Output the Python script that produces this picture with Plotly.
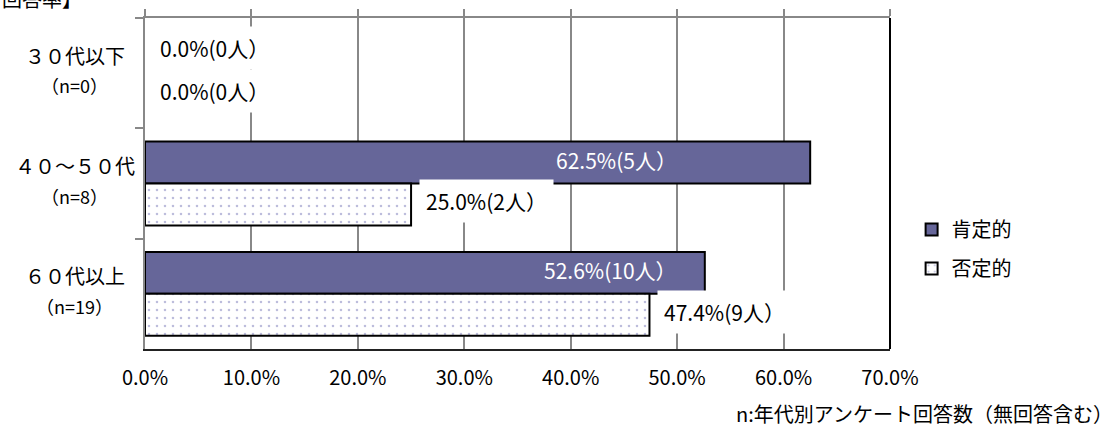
import plotly.graph_objects as go

# ---- data ----
categories = ["３０代以下", "４０～５０代", "６０代以上"]
n_values = [0, 8, 19]
positive_pct = [0.0, 62.5, 52.6]
positive_cnt = [0, 5, 10]
negative_pct = [0.0, 25.0, 47.4]
negative_cnt = [0, 2, 9]
series_names = ["肯定的", "否定的"]
x_ticks = [0, 10, 20, 30, 40, 50, 60, 70]
x_tick_labels = ["0.0%", "10.0%", "20.0%", "30.0%", "40.0%", "50.0%", "60.0%", "70.0%"]
footnote = "n:年代別アンケート回答数（無回答含む）"
cut_title = "回答率】"

FONT = "Noto Sans CJK JP"
POS_COLOR = "#666699"
GRID = "#888888"
BARGAP = 0.24
INSIDE_LABEL_END = 50.2  # x (in %) where inside labels end
LABEL_SIZE = 21

# feed non-zero bars first so the legend symbol takes a visible outline
order = sorted(range(len(categories)), key=lambda i: positive_pct[i] == 0)
cat_o = [categories[i] for i in order]
pos_o = [positive_pct[i] for i in order]
neg_o = [negative_pct[i] for i in order]

fig = go.Figure()
fig.add_trace(go.Bar(
    y=cat_o, x=pos_o, orientation="h", name=series_names[0],
    marker=dict(color=POS_COLOR,
                line=dict(color="black", width=[2 if v > 0 else 0 for v in pos_o])),
    legendgroup="a", hoverinfo="skip",
))
fig.add_trace(go.Bar(
    y=cat_o, x=neg_o, orientation="h", name=series_names[1],
    marker=dict(color="white",
                line=dict(color="black", width=[2 if v > 0 else 0 for v in neg_o]),
                pattern=dict(shape=".", fgcolor="#7a7ab8", bgcolor="white",
                             size=8, solidity=0.08)),
    legendgroup="b", hoverinfo="skip",
))
# empty helper trace so the top axis (ticks + border) is drawn
fig.add_trace(go.Scatter(x=[None], y=[None], xaxis="x2", yaxis="y",
                         showlegend=False, hoverinfo="skip", mode="markers"))

annotations = []
half = (1 - BARGAP) / 4
for i, cat in enumerate(categories):
    p = positive_pct[i]
    ptxt = f"{p:.1f}%({positive_cnt[i]}人）"
    if p > 30:
        annotations.append(dict(x=INSIDE_LABEL_END, y=i - half, xref="x", yref="y",
                                text=ptxt, showarrow=False, xanchor="right", yshift=3,
                                font=dict(family=FONT, size=LABEL_SIZE, color="white")))
    else:
        annotations.append(dict(x=p, y=i - half, xref="x", yref="y", text=ptxt,
                                showarrow=False, xanchor="left", xshift=8, yshift=4,
                                bgcolor="white", borderpad=6,
                                font=dict(family=FONT, size=LABEL_SIZE, color="black")))
    q = negative_pct[i]
    qtxt = f"{q:.1f}%({negative_cnt[i]}人）"
    annotations.append(dict(x=q, y=i + half, xref="x", yref="y", text=qtxt,
                            showarrow=False, xanchor="left", xshift=8, yshift=3,
                            bgcolor="white", borderpad=6,
                            font=dict(family=FONT, size=LABEL_SIZE, color="black")))
    annotations.append(dict(x=-0.094, y=i, xref="paper", yref="y", text=cat,
                            showarrow=False, xanchor="center", yshift=18,
                            font=dict(family=FONT, size=20, color="black")))
    annotations.append(dict(x=-0.094, y=i, xref="paper", yref="y",
                            text=f"（n={n_values[i]}）",
                            showarrow=False, xanchor="center", yshift=-12,
                            font=dict(family=FONT, size=18, color="black")))

annotations.append(dict(x=1.0, xref="paper", y=0, yref="paper", text=footnote,
                        showarrow=False, xanchor="right", yanchor="middle",
                        xshift=224, yshift=-64, borderpad=0,
                        font=dict(family=FONT, size=20, color="black")))
annotations.append(dict(x=-0.1945, xref="paper", y=1.0, yref="paper", text=cut_title,
                        showarrow=False, xanchor="left", yanchor="middle",
                        yshift=20,
                        font=dict(family=FONT, size=20, color="black")))

fig.update_layout(
    width=1116, height=430,
    margin=dict(l=145, r=226, t=11, b=81),
    paper_bgcolor="white", plot_bgcolor="white",
    barmode="group", bargap=BARGAP, bargroupgap=0,
    font=dict(family=FONT, size=20, color="black"),
    showlegend=True,
    legend=dict(x=1.029, xanchor="left", y=0.42, yanchor="top",
                traceorder="grouped", tracegroupgap=10,
                font=dict(family=FONT, size=20, color="black"),
                bgcolor="rgba(0,0,0,0)"),
    xaxis=dict(range=[0, 70], tickvals=x_ticks, ticktext=x_tick_labels,
               showgrid=True, gridcolor=GRID, gridwidth=2,
               showline=True, linecolor="#222222", linewidth=2,
               ticks="", ticklabelstandoff=10, zeroline=False,
               tickfont=dict(family=FONT, size=20, color="black")),
    xaxis2=dict(range=[0, 70], overlaying="x", side="top", anchor="y",
                tickvals=x_ticks, ticks="outside", ticklen=7, tickwidth=2,
                tickcolor=GRID, showticklabels=False, showline=True,
                linecolor=GRID, linewidth=2, showgrid=False, zeroline=False),
    yaxis=dict(type="category", categoryorder="array", categoryarray=categories,
               range=[2.5, -0.5], showticklabels=False,
               tickson="boundaries", ticks="outside", ticklen=8, tickwidth=2,
               tickcolor=GRID, showline=True, linecolor=GRID, linewidth=2,
               showgrid=False, zeroline=False),
    annotations=annotations,
    shapes=[dict(type="line", xref="paper", yref="paper", x0=1, x1=1, y0=0, y1=1,
                 line=dict(color="black", width=2))],
)

fig.write_html("out.html")
